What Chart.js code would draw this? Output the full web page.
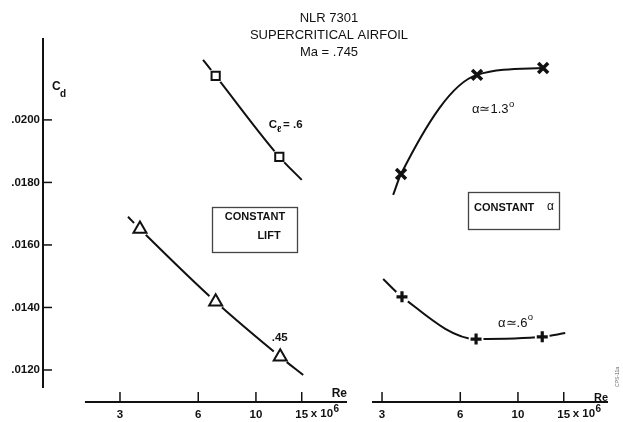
<!DOCTYPE html>
<html>
<head>
<meta charset="utf-8">
<script src="https://cdn.jsdelivr.net/npm/chart.js@4.4.1/dist/chart.umd.min.js"></script>
<style>
  body { margin: 0; background: #fff; }
  #wrap { position: relative; width: 623px; height: 422px; }
  #wrap canvas { position: absolute; left: 0; top: 0; }
</style>
</head>
<body>
<div id="wrap">
  <canvas id="liftChart" width="623" height="422"></canvas>
  <canvas id="alphaChart" width="623" height="422"></canvas>
</div>
<script>
// Re in millions, Cd
var reTicks = [3, 6, 10, 15];
var cdTicks = [0.012, 0.014, 0.016, 0.018, 0.020];

// constant lift, Cl = .6
var reCl6 = [7.0, 12.3];
var cdCl6 = [0.02141, 0.01882];
var reCl6Line = [6.26, 7.0, 12.3, 15.0];
var cdCl6Line = [0.02192, 0.02141, 0.01882, 0.01808];

// constant lift, Cl = .45
var reCl45 = [3.58, 7.0, 12.4];
var cdCl45 = [0.01651, 0.01418, 0.01242];
var reCl45Line = [3.22, 3.58, 7.0, 12.4, 15.2];
var cdCl45Line = [0.01690, 0.01651, 0.01418, 0.01242, 0.01184];

// constant alpha ~ 1.3 deg
var reA13 = [3.55, 6.96, 12.5];
var cdA13 = [0.01827, 0.02144, 0.02166];
var reA13Line = [3.31, 3.55, 6.96, 12.5];
var cdA13Line = [0.0176, 0.01827, 0.02144, 0.02166];

// constant alpha ~ .6 deg
var reA06 = [3.58, 6.9, 12.4];
var cdA06 = [0.01434, 0.01299, 0.01306];
var reA06Line = [3.03, 3.58, 6.9, 12.4, 15.2];
var cdA06Line = [0.01491, 0.01434, 0.01299, 0.01306, 0.01318];

var ink = '#111';
var FONT = '"Liberation Sans", Arial, Helvetica, sans-serif';

function pts(xs, ys) {
  var out = [];
  for (var i = 0; i < xs.length; i++) out.push({x: xs[i], y: ys[i]});
  return out;
}

function curve(xs, ys) {
  return { data: pts(xs, ys), borderColor: ink, borderWidth: 2, pointRadius: 0,
           cubicInterpolationMode: 'monotone', fill: false, order: 3 };
}
// white disc under each marker so the curve breaks around it
function halo(xs, ys, r) {
  return { data: pts(xs, ys), showLine: false, pointStyle: 'circle', pointRadius: r,
           pointBackgroundColor: '#fff', pointBorderColor: '#fff', pointBorderWidth: 0, order: 2 };
}
function marks(xs, ys, style, r, w) {
  return { data: pts(xs, ys), showLine: false, pointStyle: style, pointRadius: r,
           pointBackgroundColor: '#fff', pointBorderColor: ink, pointBorderWidth: w, order: 1 };
}

function txt(ctx, s, x, y, font, align) {
  ctx.font = font;
  ctx.textAlign = align || 'left';
  ctx.textBaseline = 'middle';
  ctx.fillStyle = ink;
  ctx.fillText(s, x, y);
  return ctx.measureText(s).width;
}

// axis lines, inward ticks and the "x 10^6" suffix
function framePlugin(opts) {
  return {
    id: 'frame',
    afterDraw: function (chart) {
      var ctx = chart.ctx, xs = chart.scales.x, ys = chart.scales.y, a = chart.chartArea;
      ctx.save();
      ctx.strokeStyle = ink;
      ctx.lineCap = 'butt';
      if (opts.yAxis) {
        ctx.lineWidth = 2;
        ctx.beginPath();
        ctx.moveTo(a.left, ys.getPixelForValue(0.02262));
        ctx.lineTo(a.left, ys.getPixelForValue(0.01142));
        ctx.stroke();
        ctx.lineWidth = 1.5;
        cdTicks.forEach(function (v) {
          var py = ys.getPixelForValue(v);
          ctx.beginPath(); ctx.moveTo(a.left, py); ctx.lineTo(a.left + 9, py); ctx.stroke();
        });
      }
      var x0 = xs.getPixelForValue(opts.xFrom);
      ctx.lineWidth = 1.8;
      ctx.beginPath(); ctx.moveTo(x0, a.bottom); ctx.lineTo(a.right, a.bottom); ctx.stroke();
      ctx.lineWidth = 1.5;
      reTicks.forEach(function (v) {
        var px = xs.getPixelForValue(v);
        ctx.beginPath(); ctx.moveTo(px, a.bottom); ctx.lineTo(px, a.bottom - 10); ctx.stroke();
      });
      var p15 = xs.getPixelForValue(15) + 9;
      var w = txt(ctx, 'x 10', p15, a.bottom + 12, 'bold 11.5px ' + FONT);
      txt(ctx, '6', p15 + w + 0.5, a.bottom + 7, 'bold 10px ' + FONT);
      txt(ctx, 'Re', a.right, a.bottom - 8 + opts.reDy, 'bold ' + opts.reSize + 'px ' + FONT, 'right');
      if (opts.extra) opts.extra(ctx, xs, ys);
      ctx.restore();
    }
  };
}

function baseOptions(xMin, xMax, padding, yShow) {
  return {
    responsive: false,
    animation: false,
    events: [],
    layout: { padding: padding },
    plugins: { legend: { display: false }, tooltip: { enabled: false } },
    scales: {
      x: {
        type: 'logarithmic', min: xMin, max: xMax,
        afterBuildTicks: function (s) { s.ticks = reTicks.map(function (v) { return {value: v}; }); },
        afterFit: function (s) { s.height = 20; },
        grid: { display: false, drawTicks: false },
        border: { display: false },
        ticks: { autoSkip: false, maxRotation: 0, padding: 6, color: ink,
                 font: { family: FONT, size: 11.5, weight: 'bold' },
                 callback: function (v) { return String(v); } }
      },
      y: {
        display: yShow,
        min: 0.010976, max: 0.02262,
        afterBuildTicks: function (s) { s.ticks = cdTicks.map(function (v) { return {value: v}; }); },
        afterFit: function (s) { s.width = yShow ? 43 : 0; },
        grid: { display: false, drawTicks: false },
        border: { display: false },
        ticks: { padding: 3, color: ink, font: { family: FONT, size: 11.5, weight: 'bold' },
                 callback: function (v) { return '.' + v.toFixed(4).slice(2); } }
      }
    }
  };
}

// left panel: constant lift
new Chart(document.getElementById('liftChart'), {
  type: 'line',
  data: {
    datasets: [
      curve(reCl6Line, cdCl6Line), halo(reCl6, cdCl6, 7.5), marks(reCl6, cdCl6, 'rect', 5.8, 2),
      curve(reCl45Line, cdCl45Line), halo(reCl45, cdCl45, 8.5), marks(reCl45, cdCl45, 'triangle', 7.5, 2)
    ]
  },
  options: baseOptions(1.517, 22.4, { top: 38, left: 0, right: 276, bottom: 0 }, true),
  plugins: [framePlugin({
    yAxis: true, xFrom: 2.2, reDy: 0, reSize: 12,
    extra: function (ctx, xs, ys) {
      // title
      txt(ctx, 'NLR 7301', 329, 18, '13px ' + FONT, 'center');
      txt(ctx, 'SUPERCRITICAL AIRFOIL', 329, 35, '13px ' + FONT, 'center');
      txt(ctx, 'Ma = .745', 329, 52, '13px ' + FONT, 'center');
      // Cd axis name
      txt(ctx, 'C', 52, 87, 'bold 12px ' + FONT);
      txt(ctx, 'd', 60, 94, 'bold 10px ' + FONT);
      // curve labels
      var lx = xs.getPixelForValue(11.2), ly = ys.getPixelForValue(0.01984);
      var w = txt(ctx, 'C', lx, ly, 'bold 11.5px ' + FONT);
      txt(ctx, '\u2113', lx + w, ly + 5, 'bold 9px ' + FONT);
      txt(ctx, '= .6', lx + w + 6, ly, 'bold 11.5px ' + FONT);
      txt(ctx, '.45', xs.getPixelForValue(11.5), ys.getPixelForValue(0.01302), 'bold 11.5px ' + FONT);
      // box
      ctx.strokeStyle = '#444';
      ctx.lineWidth = 1.3;
      ctx.strokeRect(212.5, 207.5, 85, 45);
      txt(ctx, 'CONSTANT', 255, 217, 'bold 11px ' + FONT, 'center');
      txt(ctx, 'LIFT', 269, 236, 'bold 11px ' + FONT, 'center');
    }
  })]
});

// right panel: constant alpha
new Chart(document.getElementById('alphaChart'), {
  type: 'line',
  data: {
    datasets: [
      curve(reA13Line, cdA13Line), marks(reA13, cdA13, 'crossRot', 7, 3.5),
      curve(reA06Line, cdA06Line), halo(reA06, cdA06, 7.5), marks(reA06, cdA06, 'cross', 5.5, 3.2)
    ]
  },
  options: baseOptions(2.745, 22.2, { top: 38, left: 372, right: 15, bottom: 0 }, false),
  plugins: [framePlugin({
    yAxis: false, xFrom: 2.745, reDy: 4, reSize: 11,
    extra: function (ctx, xs, ys) {
      var ax = xs.getPixelForValue(6.65), ay = ys.getPixelForValue(0.02032);
      var w = txt(ctx, '\u03b1\u22431.3', ax, ay, '13px ' + FONT);
      txt(ctx, 'o', ax + w + 0.5, ay - 6, '9.5px ' + FONT);
      var bx = xs.getPixelForValue(8.38), by = ys.getPixelForValue(0.0135);
      w = txt(ctx, '\u03b1\u2243.6', bx, by, '13px ' + FONT);
      txt(ctx, 'o', bx + w + 0.5, by - 6, '9.5px ' + FONT);
      ctx.strokeStyle = '#444';
      ctx.lineWidth = 1.3;
      ctx.strokeRect(468.5, 192.5, 91, 37);
      txt(ctx, 'CONSTANT', 474, 208, 'bold 11px ' + FONT);
      txt(ctx, '\u03b1', 547, 207, '12px ' + FONT);
      // plate number
      ctx.save();
      ctx.translate(618, 377);
      ctx.rotate(-Math.PI / 2);
      ctx.fillStyle = '#666';
      ctx.font = '5px ' + FONT;
      ctx.textAlign = 'center';
      ctx.textBaseline = 'middle';
      ctx.fillText('CPS-11a', 0, 0);
      ctx.restore();
    }
  })]
});
</script>
</body>
</html>
